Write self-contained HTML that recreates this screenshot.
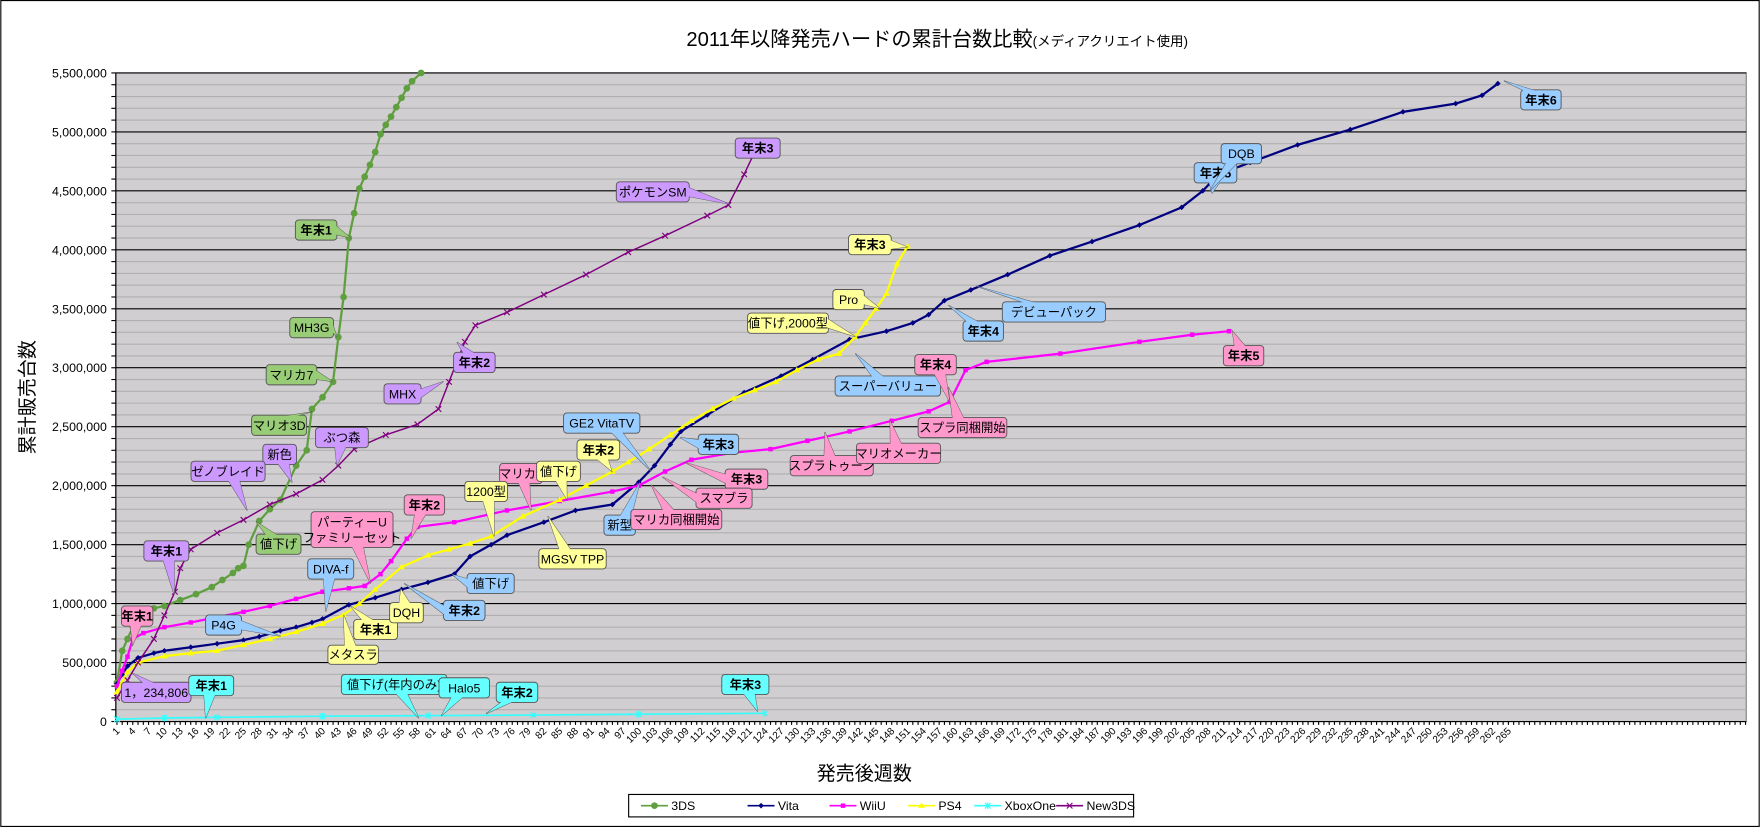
<!DOCTYPE html>
<html><head><meta charset="utf-8">
<style>
html,body{margin:0;padding:0;background:#fff;}
svg{display:block;font-family:"Liberation Sans","Noto Sans CJK JP",sans-serif;}
</style></head>
<body>
<svg id="chart" width="1760" height="827" viewBox="0 0 1568 737" xmlns="http://www.w3.org/2000/svg">
<rect x="0.5" y="0.5" width="1567" height="736" fill="#fff" stroke="#000" stroke-width="1"/>
<text x="835" y="41" text-anchor="middle" font-size="18">2011年以降発売ハードの累計台数比較<tspan font-size="12">(メディアクリエイト使用)</tspan></text>
<rect x="103" y="65" width="1453" height="578" fill="#d0ced0" stroke="#808080"/>
<g id="grid"></g>
<g id="yaxis"></g>
<g id="xaxis"></g>
<g id="series"></g>
<g id="callouts"></g>
<text transform="translate(30,354) rotate(-90)" text-anchor="middle" font-size="17">累計販売台数</text>
<text x="770" y="695" text-anchor="middle" font-size="17">発売後週数</text>
<g id="legend"></g>
</svg>
<script>
const yTicks=[0,500000,1000000,1500000,2000000,2500000,3000000,3500000,4000000,4500000,5000000,5500000];
const seriesNames=["3DS","Vita","WiiU","PS4","XboxOne","New3DS"];
const w3DS=[1,2,3,4,6,8,10,13,16,19,21,23,24,25,26,28,30,32,35,37,38,40,42,43,44,45,46,47,48,49,50,51,52,53,54,55,56,57,58.7];
const v3DS=[330000,600000,700000,800000,900000,960000,980000,1030000,1080000,1140000,1200000,1260000,1300000,1320000,1500000,1700000,1800000,1880000,2170000,2300000,2650000,2750000,2880000,3260000,3600000,4100000,4310000,4520000,4620000,4720000,4830000,4980000,5060000,5130000,5210000,5290000,5370000,5430000,5500000];
const wVita=[1,2,3,5,8,10,15,20,25,28,32,35,38,40,45,50,55,60,65,68,72,75,82,88,95,100,103,106,108,113,120,127,133,140,147,152,155,158,163,170,178,186,195,203,207,210,216,225,235,245,255,260,263];
const vVita=[320000,400000,470000,540000,580000,600000,630000,660000,690000,720000,770000,800000,840000,870000,990000,1050000,1120000,1180000,1250000,1400000,1500000,1580000,1690000,1790000,1840000,2030000,2170000,2350000,2460000,2600000,2790000,2930000,3070000,3240000,3310000,3380000,3450000,3570000,3660000,3790000,3950000,4070000,4210000,4360000,4500000,4640000,4740000,4890000,5020000,5170000,5240000,5310000,5410000];
const wWiiU=[1,2,3,4,6,10,15,20,25,30,35,40,45,48,51,53,56,58,65,75,85,95,100,105,110,118,125,132,140,148,155,159,162,166,180,195,205,212];
const vWiiU=[300000,430000,550000,700000,750000,800000,840000,885000,930000,980000,1040000,1100000,1130000,1150000,1250000,1360000,1550000,1650000,1690000,1790000,1870000,1950000,2000000,2120000,2220000,2280000,2310000,2380000,2460000,2550000,2630000,2710000,2980000,3050000,3120000,3220000,3280000,3310000];
const wPS4=[1,2,3,5,10,15,20,25,30,35,40,44,47,50,55,60,64,68,72,78,85,90,95,98,102,106,110,114,118,122,126,130,134,138,141,143,145,147,149,151];
const vPS4=[250000,330000,420000,500000,555000,580000,600000,650000,700000,760000,830000,905000,1000000,1120000,1310000,1410000,1460000,1510000,1570000,1740000,1880000,2000000,2120000,2200000,2310000,2430000,2550000,2650000,2740000,2810000,2880000,2980000,3070000,3120000,3260000,3380000,3500000,3630000,3880000,4030000];
const wXbox=[1,10,20,40,60,80,100,124];
const vXbox=[20000,30000,35000,45000,50000,55000,62000,70000];
const wNew=[1,3,5,8,10,12,13,15,20,25,30,35,40,43,46,52,58,62,64,67,69,75,82,90,98,105,113,117,120,122,123];
const vNew=[200000,350000,500000,700000,900000,1100000,1300000,1460000,1600000,1710000,1840000,1930000,2050000,2170000,2310000,2430000,2520000,2650000,2880000,3220000,3360000,3470000,3620000,3790000,3980000,4120000,4290000,4380000,4640000,4830000,4880000];
const xLabelWeeks=[];for(let i=1;i<=265;i+=3)xLabelWeeks.push(i);

const NS="http://www.w3.org/2000/svg";
const X0=103,X1=1556,Y0=65,Y1=643,YMAX=5500000,WSTEP=4.697;
function xs(w){return 104+(w-1)*WSTEP;}
function ys(v){return Y1-v/YMAX*(Y1-Y0);}
function mk(tag,attrs,parent){const e=document.createElementNS(NS,tag);for(const k in attrs)e.setAttribute(k,attrs[k]);parent.appendChild(e);return e;}

const grid=document.getElementById('grid');
for(let v=100000;v<=5500000;v+=100000){
  const major=v%500000===0;
  const l=mk('line',{x1:X0,x2:X1,y1:ys(v),y2:ys(v),stroke:major?'#000':'#b0b0b0','stroke-width':1},grid);
  
  
}
const ya=document.getElementById('yaxis');
mk('line',{x1:X0,x2:X0,y1:Y0,y2:Y1,stroke:'#000'},ya);
for(let v=0;v<=5500000;v+=100000){mk('line',{x1:X0-4,x2:X0,y1:ys(v),y2:ys(v),stroke:'#000'},ya);}
yTicks.forEach(v=>{
  const t=mk('text',{x:X0-8,y:ys(v)+4,'text-anchor':'end','font-size':11},ya);
  t.textContent=v.toLocaleString('en-US');
  
  
});
const xa=document.getElementById('xaxis');
mk('line',{x1:X0,x2:X1,y1:Y1,y2:Y1,stroke:'#000'},xa);
for(let w=1;xs(w)<=X1;w++){mk('line',{x1:xs(w),x2:xs(w),y1:Y1,y2:Y1+3,stroke:'#000'},xa);}
xLabelWeeks.forEach(w=>{
  const t=mk('text',{x:0,y:0,'text-anchor':'end','font-size':9,transform:`translate(${xs(w)+3},${Y1+9}) rotate(-45)`},xa);
  t.textContent=w;
  
  
});

const sg=document.getElementById('series');
function marker(type,x,y,color,g){
  if(type==='circle')mk('circle',{cx:x,cy:y,r:3,fill:color},g);
  else if(type==='diamond')mk('polygon',{points:`${x},${y-2.5} ${x+2.5},${y} ${x},${y+2.5} ${x-2.5},${y}`,fill:color},g);
  else if(type==='square')mk('rect',{x:x-2,y:y-2,width:4,height:4,fill:color},g);
  else if(type==='tri')mk('polygon',{points:`${x},${y-3} ${x+3},${y+2} ${x-3},${y+2}`,fill:color},g);
  else if(type==='star'){mk('path',{d:`M${x-2.5} ${y-2.5}L${x+2.5} ${y+2.5}M${x-2.5} ${y+2.5}L${x+2.5} ${y-2.5}M${x} ${y-3}L${x} ${y+3}`,stroke:color,'stroke-width':1},g);}
  else if(type==='x'){mk('path',{d:`M${x-2.5} ${y-2.5}L${x+2.5} ${y+2.5}M${x-2.5} ${y+2.5}L${x+2.5} ${y-2.5}`,stroke:color,'stroke-width':1},g);}
}
function drawSeries(name,ws,vs,color,mtype,width){
  const g=mk('g',{},sg);
  
  
  const pts=ws.map((w,i)=>xs(w)+','+ys(vs[i])).join(' ');
  mk('polyline',{points:pts,fill:'none',stroke:color,'stroke-width':width},g);
  ws.forEach((w,i)=>marker(mtype,xs(w),ys(vs[i]),color,g));
}
drawSeries('XboxOne',wXbox,vXbox,'#33ffff','star',1.5);
drawSeries('3DS',w3DS,v3DS,'#5f9f3f','circle',2);
drawSeries('Vita',wVita,vVita,'#000080','diamond',2);
drawSeries('WiiU',wWiiU,vWiiU,'#ff00ff','square',2);
drawSeries('PS4',wPS4,vPS4,'#ffff00','tri',2);
drawSeries('New3DS',wNew,vNew,'#800080','x',1.3);

const C={g:'#99cc77',p:'#cc99ff',k:'#ff99cc',y:'#ffff99',b:'#99ccff',c:'#66ffff'};
const callouts=[
['年末1','g',263,196,300,214,312,212,1],['MH3G','g',258,283,297,301,300,300,0],['マリカ7','g',237,325,282,343,296,340,0],['マリオ3D','g',224,370,273,388,278,367,0],['値下げ','g',228,476,268,494,228,465,0],
['ポケモンSM','p',549,162,614,180,650,182,0],['年末3','p',655,123,695,141,660,140,1],['MHX','p',342,342,375,360,395,340,0],['年末2','p',404,314,441,332,407,305,1],['ぶつ森','p',281,381,328,399,300,415,0],['新色','p',234,396,264,414,260,430,0],['ゼノブレイド','p',170,411,236,429,220,455,0],['年末1','p',128,482,168,500,155,530,1],['1，234,806','p',108,608,170,626,118,600,0],
['年末1','k',108,540,136,558,118,575,1],['パーティーU\nファミリーセット','k',277,456,350,488,330,520,0],['年末2','k',360,441,396,459,366,480,1],['マリカ8','k',445,413,483,431,473,455,0],
['1200型','y',414,429,452,447,440,478,0],['値下げ','y',478,411,517,429,505,445,0],['MGSV TPP','y',480,489,540,507,488,460,0],['年末2','y',514,392,552,410,545,420,1],['年末3','y',756,209,794,227,808,220,1],['Pro','y',742,258,770,276,784,275,0],['値下げ,2000型','y',666,279,738,297,762,300,0],['メタスラ','y',292,575,337,592,306,548,0],['年末1','y',315,552,354,570,312,540,1],['DQH','y',347,537,377,555,357,525,0],
['GE2 VitaTV','b',502,368,570,386,580,420,0],['年末3','b',622,387,658,405,606,390,1],['新型','b',538,459,566,477,570,430,0],['DIVA-f','b',274,498,315,516,290,545,0],['値下げ','b',416,511,458,529,403,512,0],['年末2','b',395,535,432,553,360,520,1],['P4G','b',183,548,215,566,250,567,0],['年末4','b',858,286,894,304,845,272,1],['デビューパック','b',893,269,985,287,870,255,0],['スーパーバリュー','b',744,335,838,353,762,315,0],['年末5','b',1064,145,1102,163,1080,172,1],['DQB','b',1088,128,1124,146,1078,170,0],['年末6','b',1355,80,1391,98,1340,72,1],
['年末3','k',646,418,684,436,610,412,1],['スマブラ','k',620,435,670,453,590,425,0],['マリカ同梱開始','k',562,454,643,472,580,432,0],['スプラトゥーン','k',704,406,778,424,735,385,0],['マリオメーカー','k',763,395,838,413,793,375,0],['年末4','k',815,316,852,334,846,358,1],['スプラ同梱開始','k',818,372,897,390,845,345,0],['年末5','k',1090,308,1126,326,1098,295,1],
['年末1','c',168,602,208,620,183,640,1],['値下げ(年内のみ)','c',304,601,398,619,373,640,0],['Halo5','c',391,604,436,622,393,638,0],['年末2','c',442,608,479,626,433,636,1],['年末3','c',643,601,685,619,675,634,1]
];
const cg=document.getElementById('callouts');
callouts.forEach(c=>{
  const [label,col,x1,y1,x2,y2,tx,ty,bold]=c;
  const g=mk('g',{},cg);
  
  
  const cx=(x1+x2)/2,cy=(y1+y2)/2;
  const dx=tx-cx,dy=ty-cy;
  let b1,b2;
  if(Math.abs(dy)*(x2-x1)>Math.abs(dx)*(y2-y1)){
    const bx=Math.max(x1+6,Math.min(x2-6,cx+dx*0.3));const ey=dy>0?y2-1:y1+1;
    b1=[bx-5,ey];b2=[bx+5,ey];
  } else {
    const by=Math.max(y1+4,Math.min(y2-4,cy));const ex=dx>0?x2-1:x1+1;
    b1=[ex,by-4];b2=[ex,by+4];
  }
  mk('polygon',{points:`${b1[0]},${b1[1]} ${tx},${ty} ${b2[0]},${b2[1]}`,fill:C[col],stroke:'#555','stroke-width':0.8},g);
  mk('rect',{x:x1,y:y1,width:x2-x1,height:y2-y1,rx:3,fill:C[col],stroke:'#555','stroke-width':0.8},g);
  mk('polygon',{points:`${b1[0]},${b1[1]} ${tx},${ty} ${b2[0]},${b2[1]}`,fill:C[col]},g);
  const lines=label.split('\n');
  lines.forEach((ln,i)=>{
    const t=mk('text',{x:cx,y:cy+4+(i-(lines.length-1)/2)*14,'text-anchor':'middle','font-size':11,'font-weight':bold?'bold':'normal'},g);
    t.textContent=ln;
  });
});

const lg=document.getElementById('legend');
mk('rect',{x:560,y:708,width:450,height:20,fill:'#fff',stroke:'#000'},lg);
const legendX=[571,666,739,809,868,941];
const legendColors=['#5f9f3f','#000080','#ff00ff','#ffff00','#33ffff','#800080'];
const legendMarkers=['circle','diamond','square','tri','star','x'];
seriesNames.forEach((n,i)=>{
  const g=mk('g',{},lg);
  
  
  mk('line',{x1:legendX[i],x2:legendX[i]+24,y1:718,y2:718,stroke:legendColors[i],'stroke-width':1.5},g);
  marker(legendMarkers[i],legendX[i]+12,718,legendColors[i],g);
  const t=mk('text',{x:legendX[i]+27,y:722,'font-size':11},g);
  t.textContent=n;
});
</script>
</body></html>
